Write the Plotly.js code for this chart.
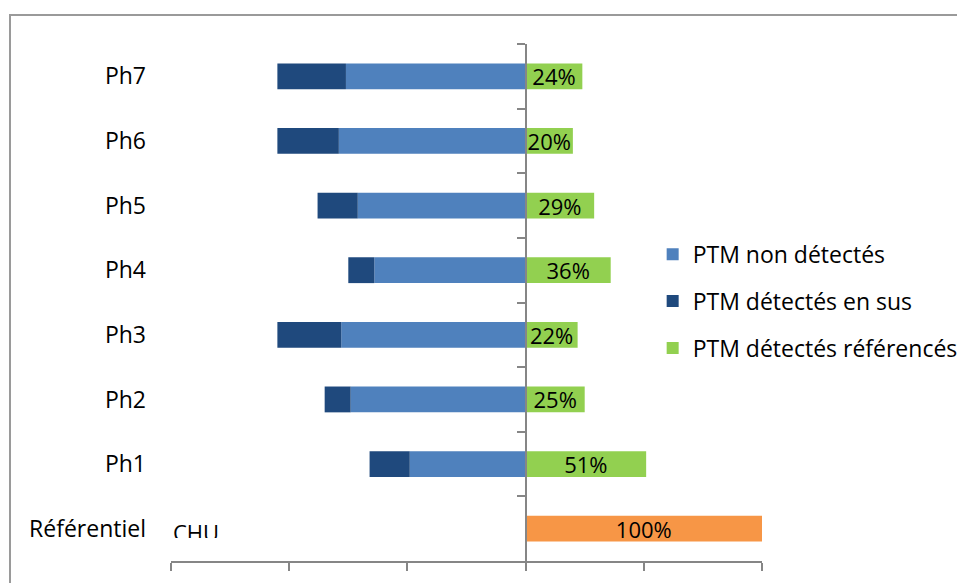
<!DOCTYPE html>
<html>
<head>
<meta charset="utf-8">
<script src="https://cdn.plot.ly/plotly-3.0.1.min.js"></script>
<style>
html,body{margin:0;padding:0;background:#fff;}
#wrap{position:relative;width:957px;height:583px;overflow:hidden;}
#chart{width:957px;height:583px;}
#frame{position:absolute;left:9px;top:14px;width:2000px;height:2000px;border-left:2px solid #9a9a9a;border-top:2px solid #9a9a9a;pointer-events:none;}
</style>
</head>
<body>
<div id="wrap"><div id="chart"></div><div id="frame"></div></div>
<script>
// Categories (top to bottom)
const categories = ["Ph7", "Ph6", "Ph5", "Ph4", "Ph3", "Ph2", "Ph1", "Référentiel CHU"];
const tickLabels = ["Ph7", "Ph6", "Ph5", "Ph4", "Ph3", "Ph2", "Ph1", "Référentiel"];
// Series values (%)
const nonDetectes = [76, 79, 71, 64, 78, 74, 49, 0];
const detectesEnSus = [29, 26, 17, 11, 27, 11, 17, 0];
const detectesReferences = [24, 20, 29, 36, 22, 25, 51, 100];

const FONT = "Open Sans, sans-serif";
const AXIS = "#868686";

const greenColors = categories.map((c, i) => i === categories.length - 1 ? "#F79646" : "#92D050");

const traces = [
  {
    type: "bar", orientation: "h", name: "PTM non détectés",
    y: categories, x: nonDetectes.map(v => -v),
    marker: {color: "#4F81BD"}, legendgroup: "a", hoverinfo: "skip"
  },
  {
    type: "bar", orientation: "h", name: "PTM détectés en sus",
    y: categories, x: detectesEnSus.map(v => -v),
    marker: {color: "#1F497D"}, legendgroup: "b", hoverinfo: "skip"
  },
  {
    type: "bar", orientation: "h", name: "PTM détectés référencés",
    y: categories, x: detectesReferences, yaxis: "y2",
    marker: {color: greenColors}, legendgroup: "c",
    text: detectesReferences.map(v => v + "%"),
    textposition: "inside", insidetextanchor: "middle", constraintext: "none",
    textangle: 0, textfont: {family: FONT, size: 22, color: "#000"},
    hoverinfo: "skip"
  }
];

const layout = {
  width: 957, height: 583,
  margin: {l: 171, r: 195, t: 44, b: 22, autoexpand: false},
  paper_bgcolor: "rgba(0,0,0,0)", plot_bgcolor: "rgba(0,0,0,0)",
  barmode: "relative", bargap: 0.6,
  font: {family: FONT, size: 22, color: "#000"},
  xaxis: {
    range: [-150, 100], dtick: 50, tick0: 0,
    showline: true, linecolor: AXIS, linewidth: 2,
    ticks: "outside", ticklen: 8, tickwidth: 2, tickcolor: AXIS,
    showticklabels: false, showgrid: false, zeroline: false, fixedrange: true,
    automargin: false
  },
  yaxis: {
    type: "category", categoryorder: "array", categoryarray: categories,
    tickvals: categories, ticktext: tickLabels, automargin: false,
    autorange: "reversed", ticks: "", showline: false, showgrid: false,
    zeroline: false, ticklabelstandoff: 24,
    tickfont: {family: FONT, size: 23, color: "#000"}
  },
  yaxis2: {
    type: "category", categoryorder: "array", categoryarray: categories,
    autorange: "reversed", overlaying: "y", anchor: "free", position: 0.6,
    side: "left", showline: true, linecolor: AXIS, linewidth: 2, automargin: false,
    ticks: "outside", ticklen: 8, tickwidth: 2, tickcolor: AXIS,
    tickson: "boundaries", showticklabels: false, showgrid: false, zeroline: false
  },
  showlegend: true,
  legend: {
    x: 0.815, y: 0.635, xanchor: "left", yanchor: "top",
    traceorder: "grouped", tracegroupgap: 14,
    font: {family: FONT, size: 23, color: "#000"},
    bgcolor: "rgba(0,0,0,0)"
  },
  annotations: [{
    xref: "paper", x: 0, xanchor: "left", yref: "y", y: categories[categories.length - 1],
    yanchor: "middle", yshift: 1, text: "CHU", showarrow: false,
    height: 21, valign: "top", font: {family: FONT, size: 22, color: "#000"}
  }]
};

Plotly.newPlot("chart", traces, layout, {displayModeBar: false, staticPlot: true});
</script>
</body>
</html>
